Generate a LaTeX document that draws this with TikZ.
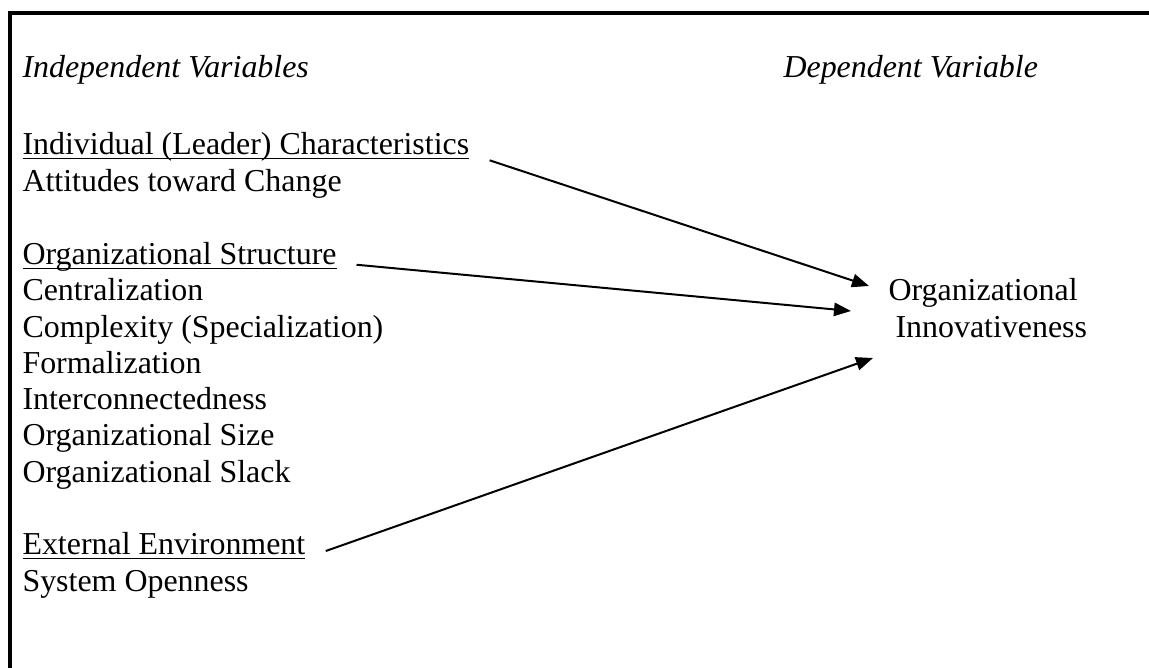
\documentclass[tikz,border=0pt]{standalone}
\usepackage{fontspec}
\setmainfont{Liberation Serif}
\usetikzlibrary{arrows.meta}

\tikzset{
  txt/.style={anchor=base west, inner sep=0pt, font=\fontsize{12}{14}\selectfont},
  link/.style={line width=0.75pt, -{Triangle[length=6.4pt,width=5pt]}},
}
\newcommand{\ulhead}[1]{\underline{\smash{#1}}}

\begin{document}
\begin{tikzpicture}[x=0.37598pt,y=-0.37598pt]
\useasboundingbox (0,0) rectangle (1149,668);
\draw[line width=1.2pt] (10,668) -- (10,13) -- (1149,13);
\node[txt] (indep) at (22,78) {\textit{Independent Variables}};
\node[txt] (dep) at (783,78) {\textit{Dependent Variable}};
\node[txt] (leader) at (22,155) {\ulhead{Individual (Leader) Characteristics}};
\node[txt] (attit) at (22,191.25) {Attitudes toward Change};
\node[txt] (struct) at (22,264.75) {\ulhead{Organizational Structure}};
\node[txt] (central) at (22,301) {Centralization};
\node[txt] (complex) at (22,337.25) {Complexity (Specialization)};
\node[txt] (formal) at (22,373.5) {Formalization};
\node[txt] (inter) at (22,409.75) {Interconnectedness};
\node[txt] (size) at (22,446) {Organizational Size};
\node[txt] (slack) at (22,482.25) {Organizational Slack};
\node[txt] (extern) at (22,554.75) {\ulhead{External Environment}};
\node[txt] (open) at (22,591) {System Openness};
\node[txt] (orgtop) at (888,301) {Organizational};
\node[txt] (orgbot) at (895,337.25) {Innovativeness};
\coordinate (tipa) at (869,286);
\coordinate (tipb) at (851,311);
\coordinate (tipc) at (873,358);
\draw[link] ([xshift=7.5pt,yshift=-2pt]leader.base east) -- (tipa);
\draw[link] ([xshift=7.3pt]struct.base east) -- (tipb);
\draw[link] ([xshift=7.5pt,yshift=1.4pt]extern.base east) -- (tipc);
\end{tikzpicture}
\end{document}
